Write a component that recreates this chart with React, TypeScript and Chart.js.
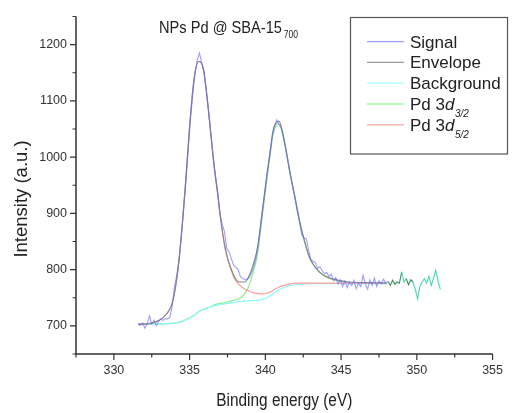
import React, { useEffect, useRef } from "react";
import { Chart, registerables } from "chart.js";

Chart.register(...registerables);

// Measured signal (binding energy grid: start + i * step)
const signalStart = 331.6;
const signalStep = 0.15;
const signalY = [
  703, 701, 705, 696, 704, 718, 703, 710, 700, 708,
  712, 710, 713, 712, 716, 735, 770, 790, 815, 858,
  905, 955, 1010, 1065, 1110, 1148, 1172, 1185, 1168, 1150,
  1118, 1080, 1042, 1003, 968, 940, 900, 880, 868, 838,
  832, 820, 808, 805, 800, 788, 784, 783, 782, 786,
  795, 806, 823, 848, 880, 912, 945, 978, 1005, 1035,
  1055, 1066, 1058, 1052, 1035, 1015, 990, 968, 950, 928,
  905, 885, 862, 856, 855, 835, 818, 815, 812, 802,
  805, 798, 793, 795, 788, 792, 780, 786, 775, 782,
  770, 780, 768, 778, 772, 781, 766, 776, 770, 790,
  775, 765, 782, 772, 785, 770, 780, 775, 783, 776,
  779, 772, 781, 774, 778, 776, 796, 778, 784, 773,
  782, 778, 765, 748, 770, 778, 784, 776, 788, 772,
  785, 799, 780, 765,
];

// Fit curves share one energy grid
const fitX = [
  331.6, 332, 332.5, 333, 333.5, 333.8, 334, 334.25, 334.5, 334.75,
  335, 335.3, 335.6, 335.9, 336.2, 336.4, 336.6, 336.85, 337.05, 337.3,
  337.5, 337.7, 338, 338.3, 338.6, 338.9, 339.2, 339.5, 339.8, 340.1,
  340.3, 340.5, 340.7, 340.9, 341.1, 341.4, 341.7, 342, 342.3, 342.6,
  342.9, 343.3, 343.8, 344.5, 345.5, 346.5, 348,
];
const backgroundY = [
  703, 703, 703, 703.5, 704, 704.5, 705, 706, 708, 711,
  714, 719, 725, 729, 732, 734, 735.5, 737, 738, 739,
  740, 741, 742, 743, 744, 744.5, 745, 745.5, 747, 750,
  753, 757, 761, 764, 767, 770, 772, 773, 774, 774.5,
  775, 775, 775, 775, 775, 775, 775,
];
const pd52Y = [
  703, 703, 705, 710, 722, 736, 758, 805, 875, 960,
  1055, 1140, 1170, 1158, 1095, 1042, 988, 935, 890, 845,
  820, 803, 782, 773, 766, 762, 759, 757.5, 757, 758,
  760, 763, 766, 769, 771, 773, 775, 776, 776, 776,
  776, 776, 776, 776, 776, 776, 776,
];
const pd32Y = [
  703, 703, 703, 703.5, 704, 704.5, 705, 706, 708, 711,
  714, 719, 725, 729, 732, 734, 737, 739, 740, 741,
  742.5, 744, 746, 749, 756, 770, 795, 830, 895, 960,
  1000, 1040, 1055, 1059, 1045, 1005, 960, 920, 880, 848,
  822, 803, 790, 782, 777, 776, 775,
];
const envelopeY = [
  703, 703, 705, 710, 722, 736, 758, 805, 875, 960,
  1055, 1140, 1170, 1158, 1095, 1042, 988, 935, 890, 845,
  821, 804.5, 785, 778, 778, 787.5, 809, 842, 905, 968,
  1007, 1046, 1060, 1064, 1049, 1008, 963, 923, 882, 849.5,
  823, 804, 791, 783, 778, 777, 776,
];

const xMajorTicks = [330, 335, 340, 345, 350, 355];
const xMinorTicks = [327.5, 332.5, 337.5, 342.5, 347.5, 352.5];
const yMajorTicks = [700, 800, 900, 1000, 1100, 1200];
const yMinorTicks = [650, 750, 850, 950, 1050, 1150, 1250];

const legendNames = ["Signal", "Envelope", "Background", "Pd 3d", "Pd 3d"];
const legendSubs = ["", "", "", "3/2", "5/2"];
const legendColors = ["#9c9cff", "#9a9a9a", "#a4ffff", "#a4f8a4", "#ffaaaa"];

const FONT = "'Liberation Sans', Arial, sans-serif";
const TEXT = "#222";

function signalColor(x: number): string {
  if (x < 348) return "rgba(100,100,255,0.62)";
  if (x < 348.9) return "#3d8f5e";
  if (x < 349.3) return "#45d6b5";
  if (x < 349.75) return "#3d8f5e";
  return "#45d6b5";
}

const decorPlugin = {
  id: "decor",
  afterDraw(chart: any) {
    const ctx = chart.ctx as CanvasRenderingContext2D;
    const { left, right, top, bottom } = chart.chartArea;
    const xs = chart.scales.x;
    const ys = chart.scales.y;
    ctx.save();
    // axes
    ctx.strokeStyle = "#333";
    ctx.lineWidth = 1.5;
    ctx.beginPath();
    ctx.moveTo(left, top);
    ctx.lineTo(left, bottom);
    ctx.lineTo(right, bottom);
    ctx.stroke();
    ctx.lineWidth = 1.2;
    ctx.beginPath();
    xMajorTicks.forEach((v) => {
      const px = xs.getPixelForValue(v);
      ctx.moveTo(px, bottom);
      ctx.lineTo(px, bottom + 6);
    });
    xMinorTicks.forEach((v) => {
      const px = xs.getPixelForValue(v);
      ctx.moveTo(px, bottom);
      ctx.lineTo(px, bottom + 3.5);
    });
    yMajorTicks.forEach((v) => {
      const py = ys.getPixelForValue(v);
      ctx.moveTo(left, py);
      ctx.lineTo(left - 6, py);
    });
    yMinorTicks.forEach((v) => {
      const py = ys.getPixelForValue(v);
      ctx.moveTo(left, py);
      ctx.lineTo(left - 3.5, py);
    });
    ctx.stroke();

    ctx.fillStyle = TEXT;
    ctx.textBaseline = "alphabetic";
    // title
    ctx.save();
    ctx.translate(159, 33);
    ctx.scale(0.86, 1);
    ctx.font = `17px ${FONT}`;
    ctx.textAlign = "left";
    const t = "NPs Pd @ SBA-15";
    ctx.fillText(t, 0, 0);
    const tw = ctx.measureText(t).width;
    ctx.font = `10px ${FONT}`;
    ctx.fillText("700", tw + 2, 5);
    ctx.restore();

    // x title
    ctx.save();
    ctx.translate((left + right) / 2, 406);
    ctx.scale(0.855, 1);
    ctx.font = `18px ${FONT}`;
    ctx.textAlign = "center";
    ctx.fillText("Binding energy (eV)", 0, 0);
    ctx.restore();

    // y title
    ctx.save();
    ctx.translate(27, 199);
    ctx.rotate(-Math.PI / 2);
    ctx.font = `18.5px ${FONT}`;
    ctx.textAlign = "center";
    ctx.fillText("Intensity (a.u.)", 0, 0);
    ctx.restore();

    // legend
    ctx.strokeStyle = "#555";
    ctx.lineWidth = 1.2;
    ctx.strokeRect(350.5, 17.5, 157, 136.5);
    const rowY = [41.7, 62.3, 83.2, 104, 124.8];
    legendNames.forEach((name, i) => {
      const y = rowY[i];
      ctx.strokeStyle = legendColors[i];
      ctx.lineWidth = 1.3;
      ctx.beginPath();
      ctx.moveTo(367, y);
      ctx.lineTo(404, y);
      ctx.stroke();
      ctx.fillStyle = TEXT;
      ctx.textAlign = "left";
      const base = y + 6;
      ctx.font = `17px ${FONT}`;
      if (!legendSubs[i]) {
        ctx.fillText(name, 410, base);
      } else {
        const pre = name.slice(0, -1);
        ctx.fillText(pre, 410, base);
        const pw = ctx.measureText(pre).width;
        ctx.font = `italic 17px ${FONT}`;
        ctx.fillText("d", 410 + pw, base);
        const dw = ctx.measureText("d").width;
        ctx.font = `italic 10px ${FONT}`;
        ctx.fillText(legendSubs[i], 410 + pw + dw + 0.5, base + 7);
      }
    });
    ctx.restore();
  },
};

export default function App() {
  const ref = useRef<HTMLCanvasElement | null>(null);
  useEffect(() => {
    if (!ref.current) return;
    const toPts = (xsArr: number[], ysArr: number[]) =>
      ysArr.map((y, i) => ({ x: xsArr[i], y }));
    const signalX = signalY.map((_, i) => +(signalStart + i * signalStep).toFixed(3));
    const fitStyle = {
      pointRadius: 0,
      borderWidth: 1.2,
      fill: false,
      cubicInterpolationMode: "monotone" as const,
    };
    const chart = new Chart(ref.current, {
      type: "line",
      data: {
        datasets: [
          {
            label: "Signal",
            data: toPts(signalX, signalY),
            borderColor: "rgba(100,100,255,0.62)",
            borderWidth: 1.1,
            pointRadius: 0,
            tension: 0,
            segment: {
              borderColor: (c: any) => signalColor(c.p0.parsed.x),
            },
          },
          { label: "Envelope", data: toPts(fitX, envelopeY), borderColor: "#8a8a8a", ...fitStyle },
          { label: "Pd 3d5/2", data: toPts(fitX, pd52Y), borderColor: "#ff9c9c", ...fitStyle },
          { label: "Background", data: toPts(fitX, backgroundY), borderColor: "#88fafa", ...fitStyle },
          { label: "Pd 3d3/2", data: toPts(fitX, pd32Y), borderColor: "#88ee88", ...fitStyle },
        ],
      },
      options: {
        animation: false,
        responsive: true,
        maintainAspectRatio: false,
        layout: { padding: { left: 0, top: 9, right: 12, bottom: 0 } },
        plugins: { legend: { display: false }, title: { display: false }, tooltip: { enabled: false } },
        scales: {
          x: {
            type: "linear",
            min: 327.5,
            max: 355,
            grid: { display: false, drawTicks: false },
            border: { display: false },
            afterBuildTicks: (s: any) => {
              s.ticks = xMajorTicks.map((v) => ({ value: v }));
            },
            afterFit: (s: any) => {
              s.height = 59;
            },
            ticks: {
              padding: 9,
              color: "#333",
              font: { family: FONT, size: 12.5 },
              maxRotation: 0,
              autoSkip: false,
              callback: (v: any) => String(v),
            },
          },
          y: {
            type: "linear",
            min: 650,
            max: 1250,
            grid: { display: false, drawTicks: false },
            border: { display: false },
            afterBuildTicks: (s: any) => {
              s.ticks = yMajorTicks.map((v) => ({ value: v }));
            },
            afterFit: (s: any) => {
              s.width = 76;
            },
            ticks: {
              padding: 9,
              color: "#333",
              font: { family: FONT, size: 12.5 },
              autoSkip: false,
              callback: (v: any) => String(v),
            },
          },
        },
      },
      plugins: [decorPlugin],
    });
    return () => chart.destroy();
  }, []);
  return (
    <div style={{ position: "absolute", left: 0, top: 0, width: 512, height: 413, background: "#fff" }}>
      <canvas ref={ref} />
    </div>
  );
}
